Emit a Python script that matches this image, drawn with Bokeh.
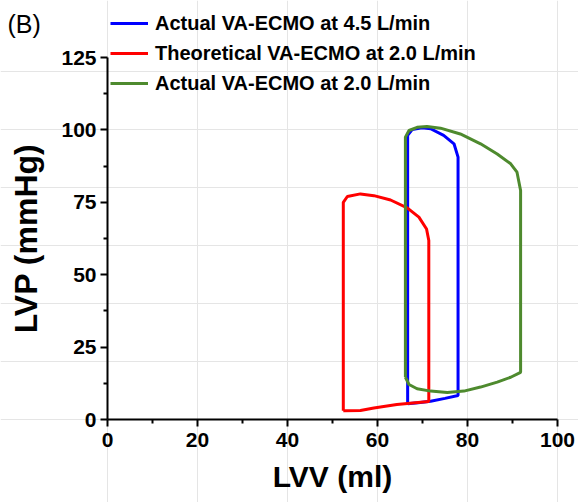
from bokeh.plotting import figure
from bokeh.models import Range1d, FixedTicker, Legend, LegendItem, Label, LinearAxis
from bokeh.embed import file_html
from bokeh.resources import INLINE

# Actual VA-ECMO at 4.5 L/min
act45_lvv = [66.7, 66.7, 67.7, 69.9, 71.8, 74.7, 77.0, 77.9, 77.9, 75.0, 71.8, 69.0, 66.7]
act45_lvp = [5.4, 98.1, 100.1, 100.7, 100.4, 98.1, 95.2, 90.6, 8.3, 7.3, 6.3, 5.8, 5.4]

# Theoretical VA-ECMO at 2.0 L/min
theo20_lvv = [52.4, 52.4, 53.3, 56.2, 59.2, 62.9, 66.6, 69.2, 70.9, 71.4, 71.4, 64.3, 59.2, 56.2, 52.4]
theo20_lvp = [3.0, 75.0, 77.0, 77.9, 77.3, 75.8, 73.1, 69.9, 65.8, 61.8, 6.2, 5.2, 4.0, 3.1, 3.0]

# Actual VA-ECMO at 2.0 L/min
act20_lvv = [66.2, 66.2, 67.0, 68.8, 71.0, 74.0, 78.4, 82.9, 86.6, 89.6, 91.0, 91.8, 91.8,
             89.6, 86.6, 82.9, 79.2, 75.5, 71.8, 68.8, 67.0, 66.2]
act20_lvp = [14.6, 97.5, 99.8, 100.9, 101.2, 100.6, 98.6, 95.2, 91.7, 88.3, 85.4, 79.1, 16.3,
             14.6, 12.9, 11.2, 9.8, 9.3, 9.8, 10.6, 12.1, 14.6]

x_major = [0, 20, 40, 60, 80, 100]
x_minor = [10, 30, 50, 70, 90]
y_major = [0, 25, 50, 75, 100, 125]
y_minor = [12.5, 37.5, 62.5, 87.5, 112.5]
x_bounds = (0, 100)
y_bounds = (0, 125)

series_names = ["Actual VA-ECMO at 4.5 L/min", "Theoretical VA-ECMO at 2.0 L/min", "Actual VA-ECMO at 2.0 L/min"]
colors = ["#0000FF", "#FF0000", "#4E8A2E"]

FONT = "Liberation Sans"

W, H = 578, 502
# frame spans whole canvas; axes are pinned at data 0 with fixed_location
px_per_x = 4.5
px_per_y = 2.896
left_px, bottom_px = 107, 419
xr = Range1d(-left_px / px_per_x, (W - left_px) / px_per_x)
yr = Range1d(-(H - bottom_px) / px_per_y, bottom_px / px_per_y)

p = figure(width=W, height=H, output_backend="svg", toolbar_location=None,
           x_range=xr, y_range=yr, x_axis_location=None, y_axis_location=None,
           min_border=0)
p.outline_line_color = None
p.background_fill_color = "white"
p.border_fill_color = "white"

r1 = p.line(act45_lvv, act45_lvp, line_color=colors[0], line_width=3)
r2 = p.line(theo20_lvv, theo20_lvp, line_color=colors[1], line_width=3)
r3 = p.line(act20_lvv, act20_lvp, line_color=colors[2], line_width=3)

xaxis = LinearAxis(fixed_location=0, bounds=x_bounds,
                   ticker=FixedTicker(ticks=x_major, minor_ticks=x_minor),
                   axis_label="LVV (ml)")
yaxis = LinearAxis(fixed_location=0, bounds=y_bounds,
                   ticker=FixedTicker(ticks=y_major, minor_ticks=y_minor),
                   axis_label="LVP (mmHg)")

for ax in (xaxis, yaxis):
    ax.axis_line_width = 2
    ax.axis_line_color = "black"
    ax.major_tick_line_width = 2
    ax.minor_tick_line_width = 2
    ax.major_tick_out = 7
    ax.major_tick_in = 0
    ax.minor_tick_out = 4
    ax.minor_tick_in = 0
    ax.major_label_text_font = FONT
    ax.major_label_text_font_style = "bold"
    ax.major_label_text_font_size = "21px"
    ax.major_label_text_color = "black"
    ax.axis_label_text_font = FONT
    ax.axis_label_text_font_style = "bold"
    ax.axis_label_text_color = "black"

xaxis.axis_label_text_font_size = "30px"
xaxis.major_label_standoff = 6
xaxis.axis_label_standoff = 10
yaxis.axis_label_text_font_size = "32px"
yaxis.major_label_standoff = 4
yaxis.axis_label_standoff = 14

p.add_layout(xaxis, "below")
p.add_layout(yaxis, "left")

legend = Legend(items=[LegendItem(label=series_names[0], renderers=[r1]),
                       LegendItem(label=series_names[1], renderers=[r2]),
                       LegendItem(label=series_names[2], renderers=[r3])],
                location=(110, 407), orientation="vertical",
                glyph_width=38, glyph_height=24, label_height=24, spacing=6,
                padding=0, margin=0, label_standoff=7,
                label_text_font=FONT, label_text_font_style="bold",
                label_text_font_size="20px", label_text_color="black",
                border_line_color=None, background_fill_alpha=0)
p.add_layout(legend, "center")

tag = Label(x=7, y=H - 23, x_units="screen", y_units="screen", text="(B)",
            text_font=FONT, text_font_size="25px", text_baseline="middle",
            text_color="black")
p.add_layout(tag)

open("out.html", "w").write(file_html(p, INLINE))
